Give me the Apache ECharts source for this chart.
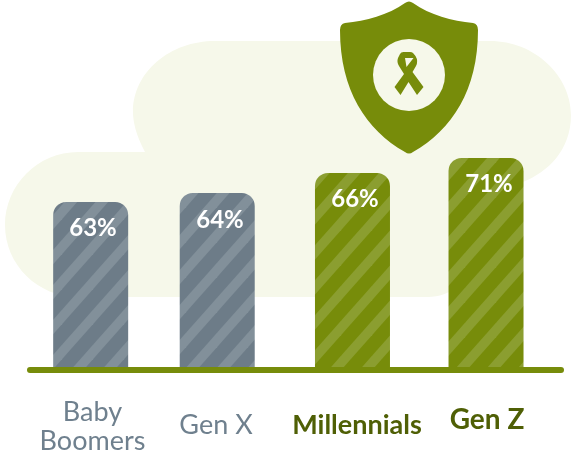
<!DOCTYPE html>
<html>
<head>
<meta charset="utf-8">
<style>
    html, body { margin: 0; background: #fff; }
    #chart { width: 575px; height: 455px; }
</style>
</head>
<body>
<div id="chart"></div>
<script src="https://cdn.jsdelivr.net/npm/echarts@6/dist/echarts.min.js"></script>
<script>
const categories = ['Baby\nBoomers', 'Gen X', 'Millennials', 'Gen Z']
const percentages = [63, 64, 66, 71]
// the bars in the picture are not to scale with their labels, so heights are read separately
const barHeights = [56, 59, 65.7, 70.7]

const barNudge = [-5.7, -11.9, -9.4, -8.6]
const stripePhase = [2, 25, 13, 15]
const valueLabelPos = [[93, 228], [220, 220], [355, 199], [489, 184]]
const catLabelPos = [[92.5, 427], [216, 425], [357, 425], [487, 420]]
const catFontSize = [27, 27, 27, 28]

const GRAY = '#6d7c88'
const OLIVE = '#778c0a'
const BLOB = '#f6f8ea'

echarts.graphic.registerShape('blob', echarts.graphic.extendPath(
    'M5 225C5 185 38 152 78 152L145 152C136 135 133 122 133 112C133 72 170 41 215 41L490 41C535 41 571 76 571 115C571 150 548 172 523 182L470 190L470 260C470 282 450 297 428 297L78 297C38 297 5 265 5 225Z', {}))
echarts.graphic.registerShape('shield', echarts.graphic.extendPath(
    'M405 3Q409 0 413 3C430 15 452 21 473 23Q478 24 478 30C478 90 452 130 413 152Q409 155 405 152C366 130 340 90 340 30Q340 24 345 23C366 21 388 15 405 3Z', {}))
echarts.graphic.registerShape('ribbon', echarts.graphic.extendPath(
    'M394.5 87L400.5 95L408.5 82L417 95L423.5 87L412.5 72L416 66Q418.5 61 415.5 56L413 53Q412 52 410 52L403.5 52Q401 52 400 54L398 58Q396.5 62 399 66L404 74ZM405 58L413.5 58L406.5 67Z', {}))

const makeStripes = (base, stripe) => {
    const w = 31
    const h = 35
    const c = document.createElement('canvas')
    c.width = w
    c.height = h
    const ctx = c.getContext('2d')
    ctx.fillStyle = base
    ctx.fillRect(0, 0, w, h)
    ctx.strokeStyle = stripe
    ctx.lineWidth = 9.5
    for (const dx of [-w, 0, w]) {
        ctx.beginPath()
        ctx.moveTo(dx - w, 2 * h)
        ctx.lineTo(dx + 2 * w, -h)
        ctx.stroke()
    }
    return c
}
const grayStripes = makeStripes(GRAY, '#82909a')
const oliveStripes = makeStripes(OLIVE, '#8b9e30')

const renderBar = (params, api) => {
    const i = params.dataIndex
    const top = api.coord([i, api.value(1)])
    const bottom = api.coord([i, 0])
    const cx = top[0] + barNudge[i]
    const isGreen = i >= 2
    return {
        type: 'group',
        children: [
            {
                type: 'rect',
                shape: { x: cx - 37.5, y: top[1], width: 75, height: bottom[1] - top[1], r: [13, 13, 0, 0] },
                style: { fill: { image: isGreen ? oliveStripes : grayStripes, repeat: 'repeat', y: stripePhase[i] } }
            },
            {
                type: 'text',
                x: valueLabelPos[i][0],
                y: valueLabelPos[i][1],
                style: {
                    text: percentages[i] + '%',
                    fill: '#fff',
                    font: 'bold 24px Lato',
                    align: 'center',
                    verticalAlign: 'middle'
                }
            },
            {
                type: 'text',
                x: catLabelPos[i][0],
                y: catLabelPos[i][1],
                style: {
                    text: categories[i],
                    fill: isGreen ? '#4f5f05' : '#6f808e',
                    font: (isGreen ? 'bold ' : '') + catFontSize[i] + 'px Lato',
                    lineHeight: 29,
                    align: 'center',
                    verticalAlign: 'middle'
                }
            }
        ]
    }
}

const option = {
    animation: false,
    grid: { left: 30, width: 531, top: 70, height: 300 },
    xAxis: {
        type: 'category',
        data: categories,
        z: 5,
        axisTick: { show: false },
        axisLabel: { show: false },
        axisLine: { lineStyle: { color: OLIVE, width: 6, cap: 'round' } }
    },
    yAxis: { type: 'value', min: 0, max: 100, show: false },
    graphic: [
        { type: 'blob', z: -10, style: { fill: BLOB } },
        { type: 'shield', z: 10, style: { fill: OLIVE } },
        { type: 'circle', z: 11, shape: { cx: 409, cy: 75, r: 36 }, style: { fill: BLOB } },
        { type: 'ribbon', z: 12, style: { fill: OLIVE } }
    ],
    series: [
        {
            type: 'custom',
            renderItem: renderBar,
            data: barHeights.map((h, i) => [i, h]),
            encode: { x: 0, y: 1 },
            clip: false
        }
    ]
}

const myChart = echarts.init(document.getElementById('chart'))
myChart.setOption(option)
</script>
</body>
</html>
